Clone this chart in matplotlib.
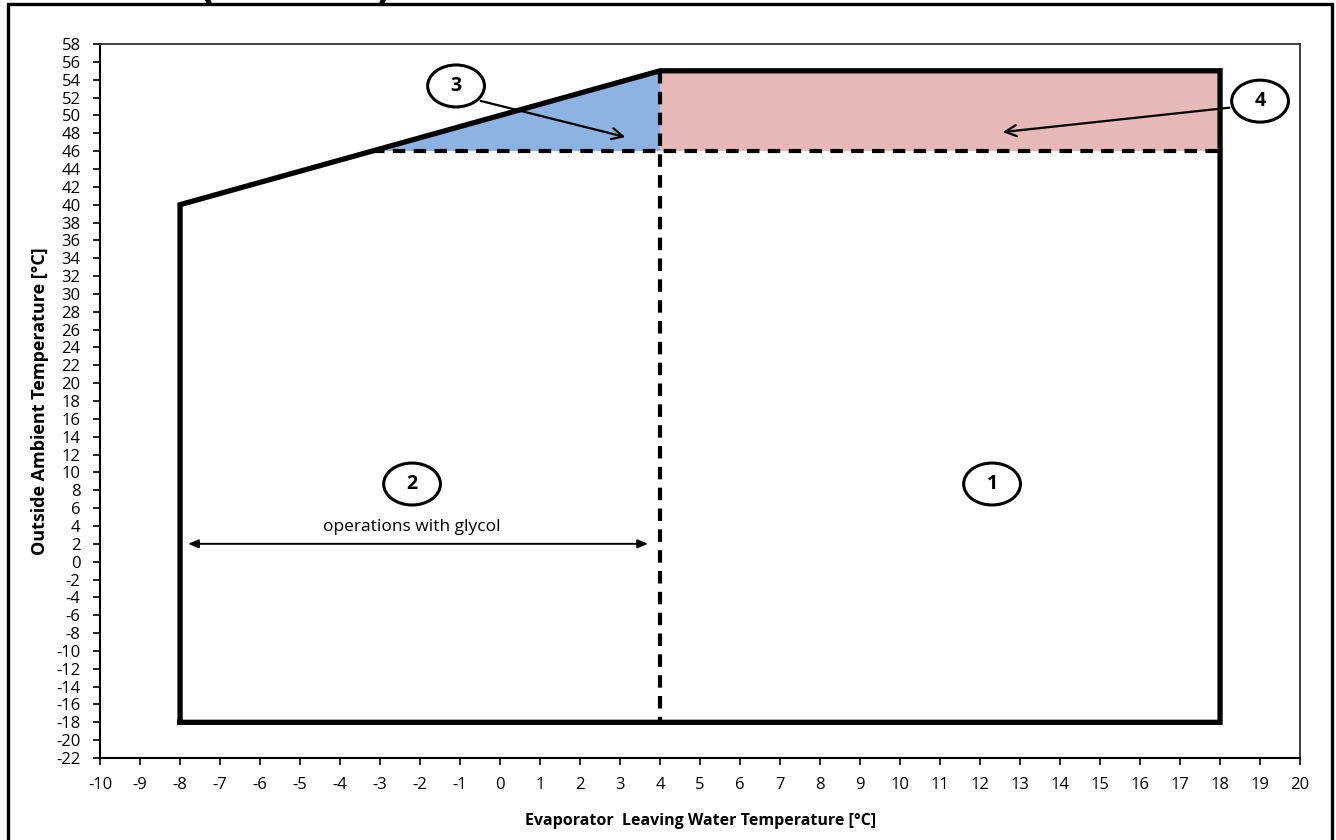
import matplotlib.pyplot as plt
import matplotlib.patches as mpatches
import numpy as np

plt.rcParams['font.family'] = ['Open Sans', 'DejaVu Sans']
plt.rcParams['axes.unicode_minus'] = False

# envelope data
outline_x = [-8, -8, 4, 18, 18, -8]
outline_y = [-18, 40, 55, 55, -18, -18]
split_x = [4, 4]
split_y = [55, -18]
limit_x = [-3.2, 18]
limit_y = [46, 46]
blue_x = [-3.2, 4, 4]
blue_y = [46, 55, 46]
pink_x = [4, 18, 18, 4]
pink_y = [46, 46, 55, 55]

labels = ['1', '2', '3', '4']
label_x = [12.3, -2.2, -1.1, 19.0]
label_y = [8.7, 8.7, 53.3, 51.6]

xticks = list(range(-10, 21))
yticks = list(range(-22, 59, 2))

fig = plt.figure(figsize=(13.36, 8.4), dpi=100)
ax = fig.add_axes([0.0749, 0.0976, 0.8982, 0.85])

ax.fill(blue_x, blue_y, color='#8DB3E2', lw=0)
ax.fill(pink_x, pink_y, color='#E6B8B7', lw=0)
ax.plot(outline_x, outline_y, color='black', lw=3.8, solid_joinstyle='miter', zorder=3)
ax.plot(split_x, split_y, color='black', lw=3, ls=(0, (3, 2)), zorder=3)
ax.plot(limit_x, limit_y, color='black', lw=3, ls=(0, (3, 2)), zorder=3)

# numbered circles
for t, x, y in zip(labels, label_x, label_y):
    ax.add_patch(mpatches.Ellipse((x, y), 1.42, 4.7, fc='white', ec='black', lw=2.2, zorder=5))
    ax.text(x, y, t, ha='center', va='center', fontsize=14, fontweight='bold', zorder=6)

# arrows
ax.annotate('', xy=(3.2, 47.5), xytext=(-0.55, 51.7),
            arrowprops=dict(arrowstyle='->,head_length=0.8,head_width=0.4', lw=1.6, color='black'), zorder=4)
ax.annotate('', xy=(12.5, 48.1), xytext=(18.3, 50.9),
            arrowprops=dict(arrowstyle='->,head_length=0.8,head_width=0.4', lw=1.6, color='black'), zorder=4)
ax.annotate('', xy=(3.7, 2.0), xytext=(-7.8, 2.0),
            arrowprops=dict(arrowstyle='<|-|>,head_length=0.6,head_width=0.25', lw=1.4, color='black',
                            shrinkA=0, shrinkB=0))
ax.text(-2.2, 3.9, 'operations with glycol', ha='center', va='center', fontsize=12.5)

ax.set_xlim(-10, 20)
ax.set_ylim(-22, 58)
ax.set_xticks(xticks)
ax.set_yticks(yticks)
ax.tick_params(direction='out', length=5, width=1.2, labelsize=12)
ax.tick_params(axis='x', pad=9)
ax.tick_params(axis='y', pad=9)
for s in ['left', 'bottom']:
    ax.spines[s].set_linewidth(1.5)
    ax.spines[s].set_color('black')
for s in ['top', 'right']:
    ax.spines[s].set_linewidth(1.3)
    ax.spines[s].set_color('#303030')

ax.set_xlabel('Evaporator  Leaving Water Temperature [°C]', fontsize=11.5, fontweight='bold', labelpad=14)
ax.set_ylabel('Outside Ambient Temperature [°C]', fontsize=13, fontweight='bold', labelpad=5)

# outer frame of the figure
fig.patches.append(mpatches.Rectangle((8 / 1336, -0.05), 1324 / 1336, 1.05 - 4 / 840, transform=fig.transFigure,
                                      fill=False, ec='black', lw=2.4))
# clipped title brackets at the top
fig.text(207 / 1336, 1 - 10 / 840, '(', fontsize=30, fontweight='bold', ha='center', va='bottom')
fig.text(383 / 1336, 1 - 10 / 840, ')', fontsize=30, fontweight='bold', ha='center', va='bottom')

fig.savefig('out.png', dpi=100)
